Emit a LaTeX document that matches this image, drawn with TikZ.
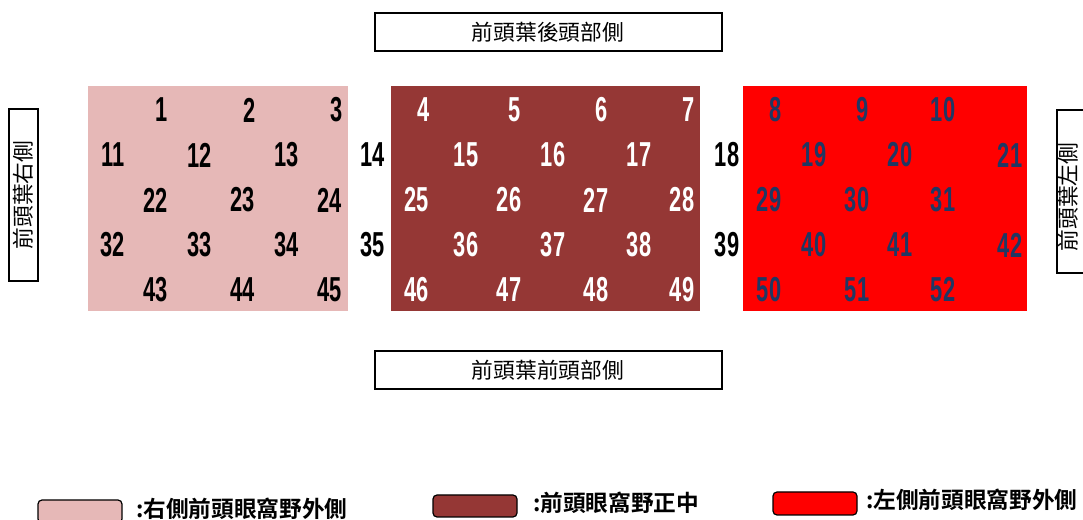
\documentclass[tikz,border=0pt]{standalone}
\usepackage{fontspec}
\newfontfamily\cjk{Noto Sans CJK TC}[BoldFont={Noto Sans CJK TC Bold}]
\newfontfamily\numfont{Liberation Sans}[FakeStretch=0.63]
\definecolor{pinkblk}{HTML}{E6B8B7}
\definecolor{darkblk}{HTML}{953735}
\definecolor{redblk}{HTML}{FF0000}
\definecolor{navy}{HTML}{1F3864}
\tikzset{
  num/.style={inner sep=0pt,font=\numfont\bfseries\fontsize{26}{26}\selectfont},
  nb/.style={num,text=black},
  nw/.style={num,text=white},
  nn/.style={num,text=navy},
  lbl/.style={draw=black,line width=1.1pt,fill=white,inner sep=0pt},
  lbltext/.style={inner sep=0pt,font=\cjk\fontsize{16.3}{16.3}\selectfont},
  legtext/.style={inner sep=0pt,anchor=west,font=\cjk\bfseries\fontsize{17}{17}\selectfont},
  swatch/.style={draw=black,line width=0.9pt,rounded corners=3pt},
}
\begin{document}
\begin{tikzpicture}[x=0.75pt,y=-0.75pt]
\useasboundingbox (0,0) rectangle (1083,520);
\clip (0,0) rectangle (1083,520);
% blocks
\fill[pinkblk] (88,86) rectangle (348,311);
\fill[darkblk] (391,86) rectangle (700,311);
\fill[redblk] (743,86) rectangle (1027,311);
% top / bottom labels
\draw[lbl] (375,13) rectangle (722,51);
\node[lbltext] (top) at (548,32) {前頭葉後頭部側};
\draw[lbl] (375,351) rectangle (722,389);
\node[lbltext] (bot) at (548,370) {前頭葉前頭部側};
% side labels
\draw[lbl] (9,109) rectangle (38,281);
\node[lbltext,rotate=90] (leftlbl) at (23.5,195) {前頭葉右側};
\draw[lbl] (1057,110) rectangle (1090,273);
\node[lbltext,rotate=90] (rightlbl) at (1068,197) {前頭葉左側};
% row 1
\node[nb] (n1) at (162,110) {1};
\node[nb] (n2) at (250,110) {2};
\node[nb] (n3) at (337,110) {3};
\node[nw] (n4) at (424,110) {4};
\node[nw] (n5) at (515,110) {5};
\node[nw] (n6) at (602,110) {6};
\node[nw] (n7) at (689,110) {7};
\node[nn] (n8) at (776,110) {8};
\node[nn] (n9) at (863,110) {9};
\node[nn] (n10) at (943,110) {10};
% row 2
\node[nb] (n11) at (113,155) {11};
\node[nb] (n12) at (200,155) {12};
\node[nb] (n13) at (287,155) {13};
\node[nb] (n14) at (373,155) {14};
\node[nw] (n15) at (466,155) {15};
\node[nw] (n16) at (553,155) {16};
\node[nw] (n17) at (639,155) {17};
\node[nb] (n18) at (727,155) {18};
\node[nn] (n19) at (814,155) {19};
\node[nn] (n20) at (900,155) {20};
\node[nn] (n21) at (1010,155) {21};
% row 3
\node[nb] (n22) at (156,200) {22};
\node[nb] (n23) at (243,200) {23};
\node[nb] (n24) at (330,200) {24};
\node[nw] (n25) at (417,200) {25};
\node[nw] (n26) at (509,200) {26};
\node[nw] (n27) at (596,200) {27};
\node[nw] (n28) at (682,200) {28};
\node[nn] (n29) at (769,200) {29};
\node[nn] (n30) at (857,200) {30};
\node[nn] (n31) at (943,200) {31};
% row 4
\node[nb] (n32) at (113,245) {32};
\node[nb] (n33) at (200,245) {33};
\node[nb] (n34) at (287,245) {34};
\node[nb] (n35) at (373,245) {35};
\node[nw] (n36) at (466,245) {36};
\node[nw] (n37) at (553,245) {37};
\node[nw] (n38) at (639,245) {38};
\node[nb] (n39) at (727,245) {39};
\node[nn] (n40) at (814,245) {40};
\node[nn] (n41) at (900,245) {41};
\node[nn] (n42) at (1010,245) {42};
% row 5
\node[nb] (n43) at (156,290) {43};
\node[nb] (n44) at (243,290) {44};
\node[nb] (n45) at (330,290) {45};
\node[nw] (n46) at (417,290) {46};
\node[nw] (n47) at (509,290) {47};
\node[nw] (n48) at (596,290) {48};
\node[nw] (n49) at (682,290) {49};
\node[nn] (n50) at (769,290) {50};
\node[nn] (n51) at (857,290) {51};
\node[nn] (n52) at (943,290) {52};
% legend
\draw[swatch,fill=pinkblk] (38,500) rectangle (122,523);
\node[legtext] (leg1) at (136,509) {:右側前頭眼窩野外側};
\draw[swatch,fill=darkblk] (433,495) rectangle (517,517);
\node[legtext] (leg2) at (533,503) {:前頭眼窩野正中};
\draw[swatch,fill=redblk] (773,492) rectangle (857,515);
\node[legtext] (leg3) at (866,500) {:左側前頭眼窩野外側};
\end{tikzpicture}
\end{document}
